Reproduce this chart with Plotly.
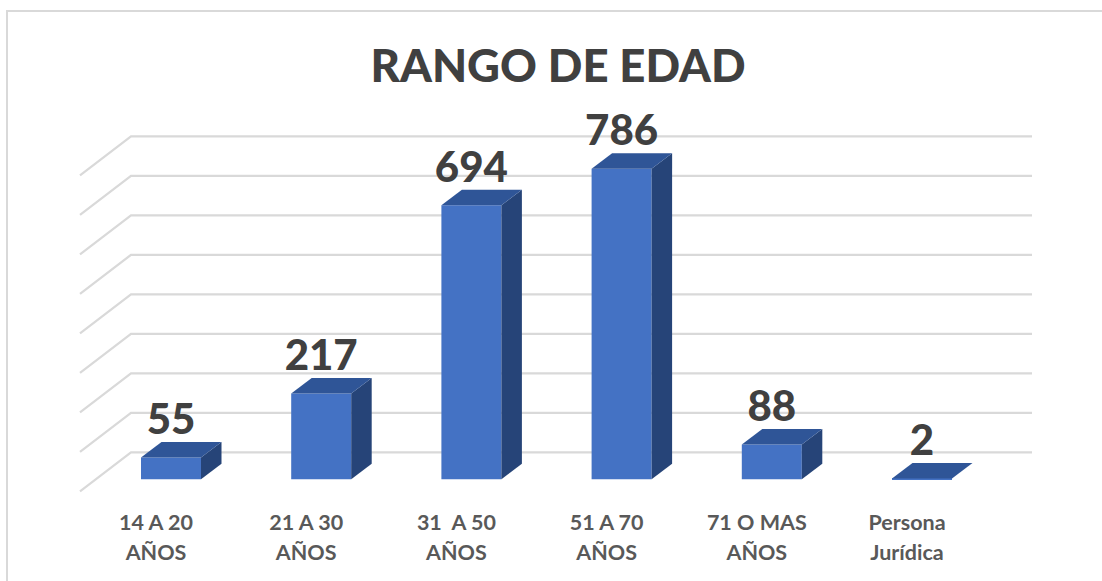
import plotly.graph_objects as go

# ---- data ----
categories = ["14 A 20|AÑOS", "21 A 30|AÑOS", "31  A 50|AÑOS", "51 A 70|AÑOS", "71 O MAS|AÑOS", "Persona|Jurídica"]
values = [55, 217, 694, 786, 88, 2]
grid_values = [0, 100, 200, 300, 400, 500, 600, 700, 800]
title_text = "RANGO DE EDAD"

# ---- scale helpers (one category = 150.2 px, one value unit = 0.395 px) ----
PX_X, PX_Y = 150.2, 0.395
PLOT_L, PLOT_R, PLOT_T, PLOT_B = 60, 1060, 100, 506
X0_PX, Y0_PX = 171.0, 479.3   # pixel of category 0 / value 0 on the front plane
xr = [(PLOT_L - X0_PX) / PX_X, (PLOT_R - X0_PX) / PX_X]
yr = [(Y0_PX - PLOT_B) / PX_Y, (Y0_PX - PLOT_T) / PX_Y]

xpos = list(range(len(values)))
bar_w = 60 / PX_X
dx, dy = 20.5 / PX_X, 15.5 / PX_Y          # bar depth

FRONT = "#4472C4"
TOP = "#2F5597"
SIDE = "#264478"
GRID = "#D9D9D9"

fig = go.Figure()

# front faces
fig.add_trace(go.Bar(x=xpos, y=values, width=bar_w, marker=dict(color=FRONT, line=dict(width=0)),
                     hoverinfo="skip", showlegend=False))

# side and top faces, derived from the values
for x, v in zip(xpos, values):
    r = x + bar_w / 2
    l = x - bar_w / 2
    fig.add_trace(go.Scatter(x=[r, r + dx, r + dx, r, r], y=[0, dy, v + dy, v, 0], mode="lines",
                             fill="toself", fillcolor=SIDE, line=dict(width=0), hoverinfo="skip", showlegend=False))
    fig.add_trace(go.Scatter(x=[l, r, r + dx, l + dx, l], y=[v, v, v + dy, v + dy, v], mode="lines",
                             fill="toself", fillcolor=TOP, line=dict(width=0), hoverinfo="skip", showlegend=False))

# value labels
fig.add_trace(go.Scatter(x=xpos, y=[v + 34 / PX_Y for v in values], mode="text",
                         text=[str(v) for v in values], textposition="middle center",
                         textfont=dict(family="Lato", size=42, color="#404040", weight=900),
                         hoverinfo="skip", showlegend=False))

# wall + floor grid lines, drawn below the traces
wall_dy = 27 / PX_Y
wall_l = (131 - X0_PX) / PX_X
wall_r = (1032 - X0_PX) / PX_X
floor_l = (80 - X0_PX) / PX_X
floor_dy = -12 / PX_Y
shapes = []
for g in grid_values:
    shapes.append(dict(type="path", xref="x", yref="y", layer="below",
                       path=f"M {floor_l} {g + floor_dy} L {wall_l} {g + wall_dy} L {wall_r} {g + wall_dy}",
                       line=dict(color=GRID, width=2.2)))
# chart frame: only the top and left edges are visible in the crop
fx = lambda p: (p - PLOT_L) / (PLOT_R - PLOT_L)
fy = lambda p: (PLOT_B - p) / (PLOT_B - PLOT_T)
shapes.append(dict(type="path", xref="paper", yref="paper", layer="below",
                   path=f"M {fx(7)} {fy(581)} L {fx(7)} {fy(11)} L {fx(1102)} {fy(11)}",
                   line=dict(color=GRID, width=2)))


def tick(label):
    return "<br>".join(f'<span style="font-size:21.5px">{p}</span>' for p in label.split("|"))


fig.update_layout(
    width=1102, height=581,
    margin=dict(l=PLOT_L, r=1102 - PLOT_R, t=PLOT_T, b=581 - PLOT_B, pad=0),
    paper_bgcolor="white", plot_bgcolor="rgba(0,0,0,0)",
    shapes=shapes,
    showlegend=False,
    title=dict(text=title_text, x=558 / 1102, xanchor="center", y=1 - 66 / 581, yanchor="middle",
               font=dict(family="Lato", size=45.5, color="#404040", weight=900)),
    xaxis=dict(range=xr, tickmode="array", tickvals=[x - 15 / PX_X for x in xpos],
               ticktext=[tick(c) for c in categories],
               tickfont=dict(family="Lato", size=23, color="#595959", weight="bold"),
               showgrid=False, zeroline=False, showline=False, ticks=""),
    yaxis=dict(range=yr, visible=False, showgrid=False, zeroline=False),
)

fig.write_html("out.html", post_script="document.body.style.margin='0';", config=dict(displayModeBar=False))
